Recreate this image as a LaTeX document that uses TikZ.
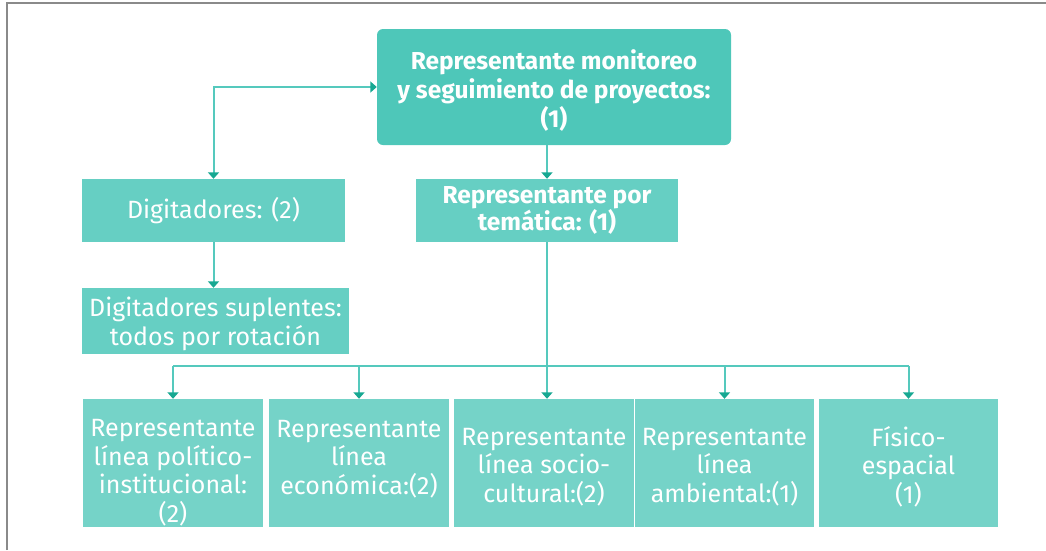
\documentclass[tikz,border=0pt]{standalone}
\usepackage{fontspec}
\setmainfont{Fira Sans}
\usetikzlibrary{arrows.meta}
\definecolor{topc}{HTML}{4EC7B9}
\definecolor{midc}{HTML}{66CFC3}
\definecolor{botc}{HTML}{75D3C8}
\definecolor{linec}{HTML}{55C9BD}
\definecolor{tipc}{HTML}{17A892}
\definecolor{framec}{HTML}{8A8A8A}
\newcommand{\bxt}[3]{\raisebox{#1}[0pt][0pt]{\parbox{#2}{\centering #3}}}
\tikzset{
  every node/.style={inner sep=0pt, text=white},
  topbox/.style={fill=topc, rounded corners=6pt, minimum width=354pt, minimum height=116pt,
    font=\fontsize{24.5}{29}\selectfont\bfseries},
  midbox/.style={fill=midc, minimum height=63pt, font=\fontsize{25}{29}\selectfont},
  botbox/.style={fill=botc, minimum height=128pt, minimum width=180pt, font=\fontsize{25}{28.5}\selectfont},
  conn/.style={draw=linec, line width=2pt},
  arr/.style={conn, -{Triangle[width=11pt,length=6.5pt,color=tipc]}},
  darr/.style={conn, {Triangle[width=11pt,length=6.5pt,color=tipc]}-{Triangle[width=11pt,length=6.5pt,color=tipc]}},
}
\begin{document}
\begin{tikzpicture}[x=1pt,y=-1pt]
\useasboundingbox (0,0) rectangle (1046,550);
\draw[framec, line width=1.5pt] (7,550) -- (7,3) -- (1046,3);

\node[topbox] (top) at (554,87) {\bxt{-10pt}{350pt}{Representante monitoreo\\y seguimiento de proyectos:\\(1)}};
\node[midbox, minimum width=263pt] (dig) at (213.5,210.5) {Digitadores: (2)};
\node[midbox, minimum width=262pt, font=\fontsize{24.5}{22}\selectfont\bfseries] (tem) at (547,210.5)
  {\bxt{-6pt}{260pt}{Representante por\\temática: (1)}};
\node[midbox, minimum width=267pt, minimum height=66pt] (sup) at (215.5,321)
  {\bxt{-9pt}{265pt}{Digitadores suplentes:\\todos por rotación}};

\node[botbox] (b1) at (173,463) {\bxt{-16pt}{178pt}{Representante\\línea político-\\institucional:\\(2)}};
\node[botbox] (b2) at (359,463) {\bxt{-2pt}{178pt}{Representante\\línea\\económica:(2)}};
\node[botbox] (b3) at (544,463) {\bxt{-10pt}{178pt}{Representante\\línea socio-\\cultural:(2)}};
\node[botbox, minimum width=179pt] (b4) at (724.5,463) {\bxt{-10pt}{177pt}{Representante\\línea\\ambiental:(1)}};
\node[botbox, minimum width=179pt] (b5) at (908.5,463) {\bxt{-10pt}{177pt}{Físico-\\espacial\\(1)}};

\coordinate (bus) at (0,366);

\draw[darr] (dig.north) |- (top.west);
\draw[arr] (tem.north |- top.south) -- (tem.north);
\draw[arr] (dig.south) -- (dig.south |- sup.north);
\draw[arr] (tem.south) -- (tem.south |- b3.north);
\draw[conn] (b1.north |- bus) -- (b5.north |- bus);
\draw[arr] (b1.north |- bus) -- (b1.north);
\draw[arr] (b2.north |- bus) -- (b2.north);
\draw[arr] (b4.north |- bus) -- (b4.north);
\draw[arr] (b5.north |- bus) -- (b5.north);
\end{tikzpicture}
\end{document}
